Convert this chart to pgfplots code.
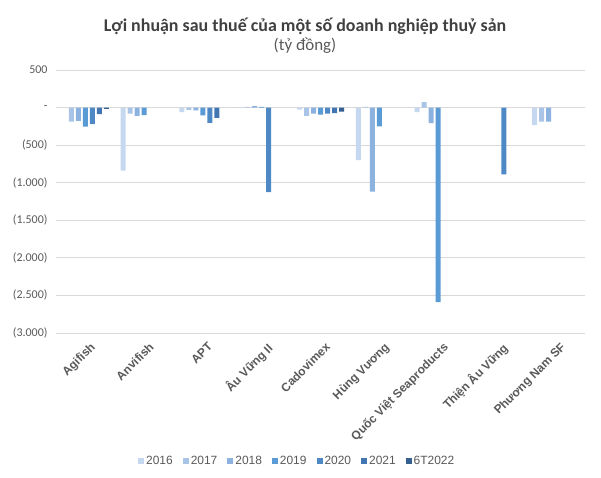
\documentclass[border=0pt]{standalone}
\usepackage{pgfplots}
\pgfplotsset{compat=1.18}
\usepackage{fontspec}
\setmainfont{Carlito}
\newfontfamily\arial{Liberation Sans}
\definecolor{c16}{HTML}{C6D8EF}
\definecolor{c17}{HTML}{A9C4E7}
\definecolor{c18}{HTML}{8CB2DF}
\definecolor{c19}{HTML}{5B9BD5}
\definecolor{c20}{HTML}{4E89C6}
\definecolor{c21}{HTML}{4276B3}
\definecolor{c22}{HTML}{35608F}
\definecolor{txt}{HTML}{595959}
\definecolor{ttl}{HTML}{404040}
\definecolor{grd}{HTML}{D9D9D9}
\begin{document}
\begin{tikzpicture}
\begin{axis}[
  scale only axis,
  width=529bp, height=263bp,
  xmin=-0.5, xmax=8.5,
  ymin=-3000, ymax=500,
  ybar=2bp, bar width=5bp,
  axis line style={draw=none},
  major tick style={draw=none},
  ymajorgrids, major grid style={grd, line width=0.8bp},
  ytick={-3000,-2500,-2000,-1500,-1000,-500,0,500},
  yticklabels={(3.000),(2.500),(2.000),(1.500),(1.000),(500),-,500},
  yticklabel style={font=\fontsize{12}{14}\selectfont, text=txt, xshift=-5bp},
  xtick={0,1,2,3,4,5,6,7,8},
  xticklabels={Agifish,Anvifish,APT,Âu Vững II,Cadovimex,Hùng Vương,Quốc Việt Seaproducts,Thiện Âu Vững,Phương Nam SF},
  xticklabel style={font=\arial\bfseries\fontsize{12}{14}\selectfont, text=txt, rotate=45, anchor=north east, xshift=1bp, yshift=-5bp, inner sep=1bp},
  legend columns=7,
  legend style={draw=none, fill=none, at={(0.456,-0.487)}, anchor=center,
    font=\arial\fontsize{12}{14}\selectfont, text=txt,
    /tikz/every even column/.append style={column sep=8bp}},
  legend image code/.code={\fill[#1] (0bp,-3bp) rectangle (6bp,3bp);},
]
\addplot[fill=c16, draw=none] coordinates {(1,-840) (2,-62) (3,5) (4,-28) (5,-700) (6,-62) (8,-232)};
\addplot[fill=c17, draw=none] coordinates {(0,-186) (1,-80) (2,-30) (3,8) (4,-111) (5,10) (6,72) (8,-186)};
\addplot[fill=c18, draw=none] coordinates {(0,-178) (1,-111) (2,-37) (3,20) (4,-80) (5,-1118) (6,-208) (8,-186)};
\addplot[fill=c19, draw=none] coordinates {(0,-253) (1,-101) (2,-103) (3,10) (4,-95) (5,-250) (6,-2590)};
\addplot[fill=c20, draw=none] coordinates {(0,-221) (2,-204) (3,-1125) (4,-80) (7,-888)};
\addplot[fill=c21, draw=none] coordinates {(0,-88) (2,-137) (4,-73)};
\addplot[fill=c22, draw=none] coordinates {(0,-18) (4,-55)};
\legend{2016,2017,2018,2019,2020,2021,6T2022}
\end{axis}
\node[font=\bfseries\fontsize{18}{21}\selectfont, text=ttl] at (249bp,307bp) {Lợi nhuận sau thuế của một số doanh nghiệp thuỷ sản};
\node[font=\fontsize{17}{20}\selectfont, text=txt] at (249bp,287bp) {(tỷ đồng)};
\pgfresetboundingbox
\path[use as bounding box] (-56bp,-145bp) rectangle (545bp,333bp);
\end{tikzpicture}
\end{document}
